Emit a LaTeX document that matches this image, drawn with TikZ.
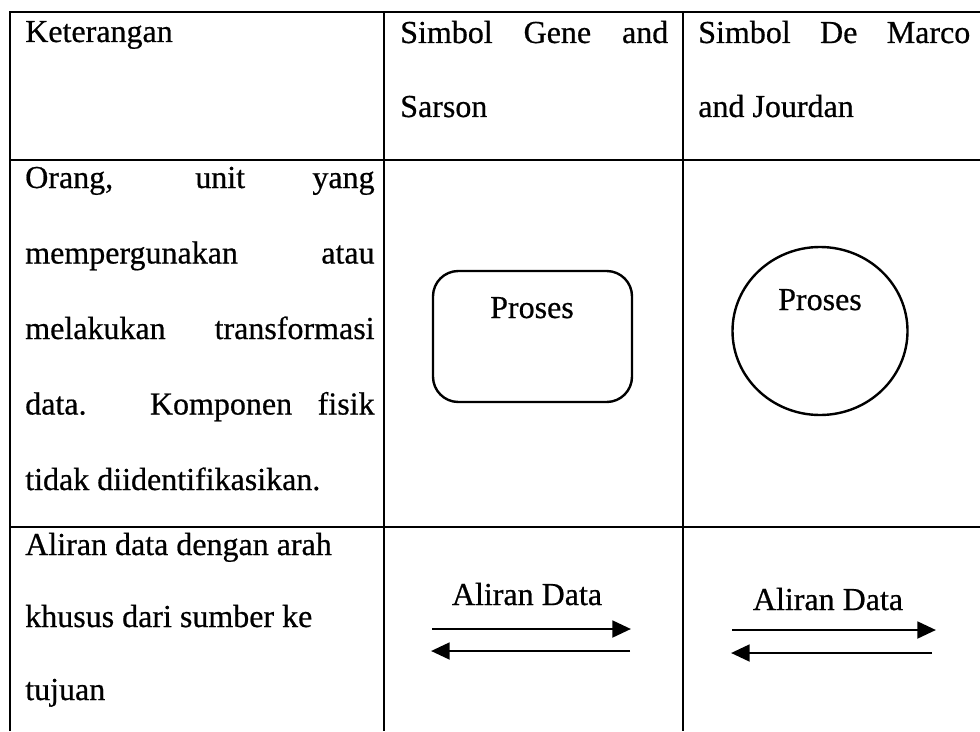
\documentclass[tikz,border=0pt]{standalone}
\usepackage{fontspec}
\setmainfont[FakeBold=0.6]{Liberation Serif}
\usetikzlibrary{arrows.meta}
\begin{document}
\begin{tikzpicture}[x=0.75pt,y=-0.75pt,
  gridline/.style={line width=1.6pt},
  txt/.style={anchor=base west,inner sep=0pt,font=\fontsize{24}{28}\selectfont},
  lbl/.style={anchor=base,inner sep=0pt,font=\fontsize{24}{28}\selectfont},
  shapeline/.style={line width=1.8pt},
  flow/.style={line width=2.2pt,-{Triangle[length=14pt,width=12.5pt]}}]
\useasboundingbox (0,0) rectangle (980,731);
% table rules
\draw[gridline] (10,731) -- (10,12) -- (980,12);
\draw[gridline] (10,160) -- (980,160);
\draw[gridline] (10,527) -- (980,527);
\draw[gridline] (384,12) -- (384,731);
\draw[gridline] (683,12) -- (683,731);
% header row
\node[txt] (h1) at (25,42) {Keterangan};
\node[txt] (h2a) at (400,43) {\makebox[201pt][s]{Simbol Gene and}};
\node[txt] (h2b) at (400,117) {Sarson};
\node[txt] (h3a) at (698,43) {\makebox[204pt][s]{Simbol De Marco}};
\node[txt] (h3b) at (698,117) {and Jourdan};
% process row
\node[txt] (p1) at (25,188) {\makebox[262pt][s]{Orang, unit yang}};
\node[txt] (p2) at (25,263.5) {\makebox[262pt][s]{mempergunakan atau}};
\node[txt] (p3) at (25,339) {\makebox[262pt][s]{melakukan transformasi}};
\node[txt] (p4) at (25,414.5) {\makebox[262pt][s]{data. Komponen fisik}};
\node[txt] (p5) at (25,490) {tidak diidentifikasikan.};
\draw[shapeline,rounded corners=19pt] (433,271) rectangle (632,402);
\node[lbl] (gs) at (532,318) {Proses};
\draw[shapeline] (820,331) circle[x radius=87.5,y radius=84];
\node[lbl] (dm) at (820,310) {Proses};
% data flow row
\node[txt] (f1) at (25,555) {Aliran data dengan arah};
\node[txt] (f2) at (25,627) {khusus dari sumber ke};
\node[txt] (f3) at (25,700) {tujuan};
\node[lbl] (ga) at (527,605) {Aliran Data};
\coordinate (gr1) at (432,629);
\coordinate (gr2) at (631,629);
\coordinate (gl1) at (630,651);
\coordinate (gl2) at (431,651);
\draw[flow] (gr1) -- (gr2);
\draw[flow] (gl1) -- (gl2);
\node[lbl] (da) at (828,610) {Aliran Data};
\coordinate (dr1) at (732,630);
\coordinate (dr2) at (936,630);
\coordinate (dl1) at (932,653);
\coordinate (dl2) at (731,653);
\draw[flow] (dr1) -- (dr2);
\draw[flow] (dl1) -- (dl2);
\end{tikzpicture}
\end{document}
